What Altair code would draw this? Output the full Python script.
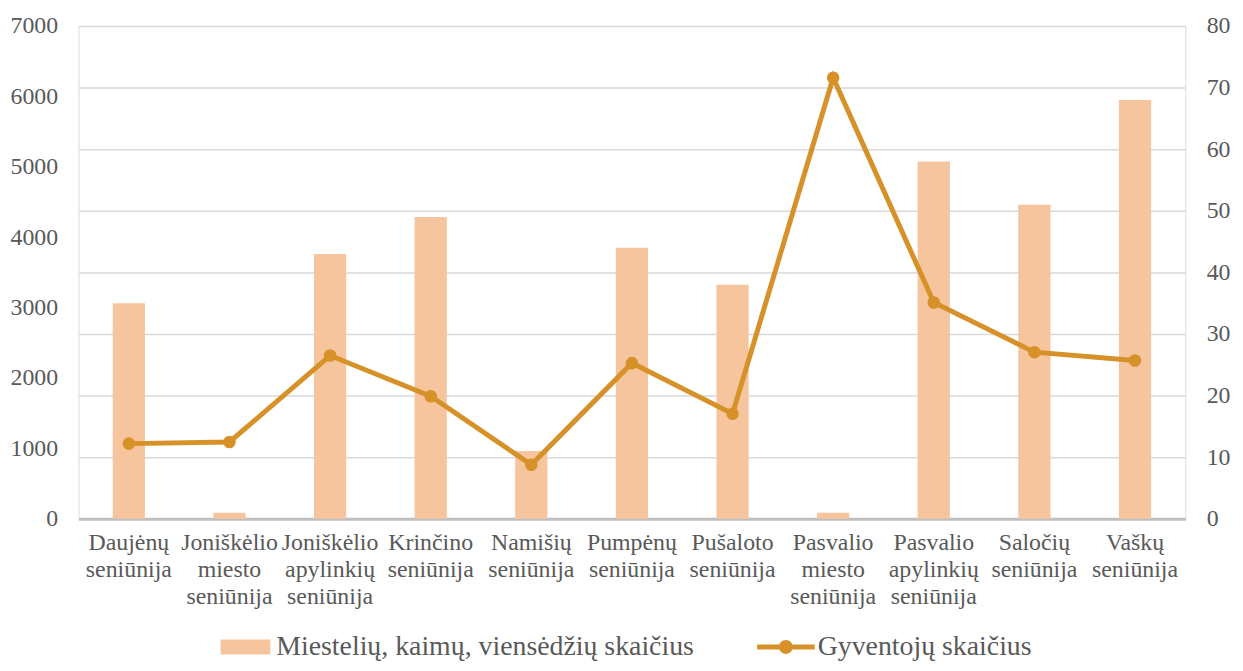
import altair as alt
import pandas as pd

categories = [
    "Daujėnų seniūnija",
    "Joniškėlio miesto seniūnija",
    "Joniškėlio apylinkių seniūnija",
    "Krinčino seniūnija",
    "Namišių seniūnija",
    "Pumpėnų seniūnija",
    "Pušaloto seniūnija",
    "Pasvalio miesto seniūnija",
    "Pasvalio apylinkių seniūnija",
    "Saločių seniūnija",
    "Vaškų seniūnija",
]
settlements = [35, 1, 43, 49, 11, 44, 38, 1, 58, 51, 68]
population = [1068, 1091, 2319, 1740, 767, 2211, 1492, 6266, 3072, 2367, 2249]

bar_name = "Miestelių, kaimų, viensėdžių skaičius"
line_name = "Gyventojų skaičius"

df = pd.DataFrame({
    "cat": categories,
    "settlements": settlements,
    "population": population,
    "s_bar": bar_name,
    "s_line": line_name,
})

FONT = "Times New Roman, Liberation Serif, DejaVu Serif, serif"
TXT = "#595959"
BAR = "#F6C59E"
LINE = "#D69229"

x = alt.X(
    "cat:N",
    sort=categories,
    title=None,
    scale=alt.Scale(paddingInner=0.68, paddingOuter=0.34),
    axis=alt.Axis(
        labelAngle=0,
        labelExpr="split(datum.label, ' ')",
        labelFont=FONT,
        labelFontSize=24,
        labelColor=TXT,
        labelLineHeight=27,
        labelPadding=12,
        labelLimit=300,
        ticks=False,
        domainColor="#BFBFBF",
        domainWidth=3,
        grid=False,
    ),
)

bars = alt.Chart(df).mark_bar(stroke=None).encode(
    x=x,
    y=alt.Y(
        "settlements:Q",
        title=None,
        scale=alt.Scale(domain=[0, 80], nice=False),
        axis=alt.Axis(
            orient="right",
            values=list(range(0, 81, 10)),
            format="d",
            labelFont=FONT,
            labelFontSize=24,
            labelColor=TXT,
            labelPadding=21,
            ticks=False,
            domain=False,
            grid=True,
            gridColor="#D9D9D9",
            gridWidth=1.5,
        ),
    ),
    color=alt.Color(
        "s_bar:N",
        scale=alt.Scale(domain=[bar_name], range=[BAR]),
        legend=alt.Legend(
            title=None,
            orient="none",
            legendX=143,
            legendY=600,
            symbolType="M-1,-0.3L1,-0.3L1,0.3L-1,0.3Z",
            symbolSize=2500,
            symbolStrokeWidth=0,
            labelFont=FONT,
            labelFontSize=28,
            labelColor=TXT,
            labelOffset=6,
            labelLimit=600,
        ),
    ),
)

LEG_LINE = (
    "M-1,-0.086L-0.22,-0.086L-0.22,0.086L-1,0.086Z"
    "M0.22,-0.086L1,-0.086L1,0.086L0.22,0.086Z"
    "M-0.24,0A0.24,0.24,0,1,1,0.24,0A0.24,0.24,0,1,1,-0.24,0Z"
)

line = alt.Chart(df).mark_line(
    strokeWidth=5,
    point=alt.OverlayMarkDef(filled=True, size=160, color=LINE, opacity=1),
).encode(
    x=x,
    y=alt.Y(
        "population:Q",
        title=None,
        scale=alt.Scale(domain=[0, 7000], nice=False),
        axis=alt.Axis(
            orient="left",
            values=list(range(0, 7001, 1000)),
            format="d",
            labelFont=FONT,
            labelFontSize=24,
            labelColor=TXT,
            labelPadding=21,
            ticks=False,
            domain=False,
            grid=False,
        ),
    ),
    color=alt.Color(
        "s_line:N",
        scale=alt.Scale(domain=[line_name], range=[LINE]),
        legend=alt.Legend(
            title=None,
            orient="none",
            legendX=683,
            legendY=596,
            symbolType=LEG_LINE,
            symbolSize=3364,
            symbolStrokeWidth=0,
            symbolFillColor=LINE,
            labelFont=FONT,
            labelFontSize=28,
            labelColor=TXT,
            labelOffset=3,
            labelLimit=600,
        ),
    ),
)

chart = alt.layer(bars, line).resolve_scale(
    y="independent", color="independent"
).resolve_legend(color="independent").properties(
    width=1114,
    height=496,
    padding={"left": 71, "top": 16, "right": 50, "bottom": 143},
    autosize=alt.AutoSizeParams(type="none"),
).configure_view(stroke=None).configure(background="white")

chart.save("out.html", embed_options={"renderer": "svg", "actions": False})
